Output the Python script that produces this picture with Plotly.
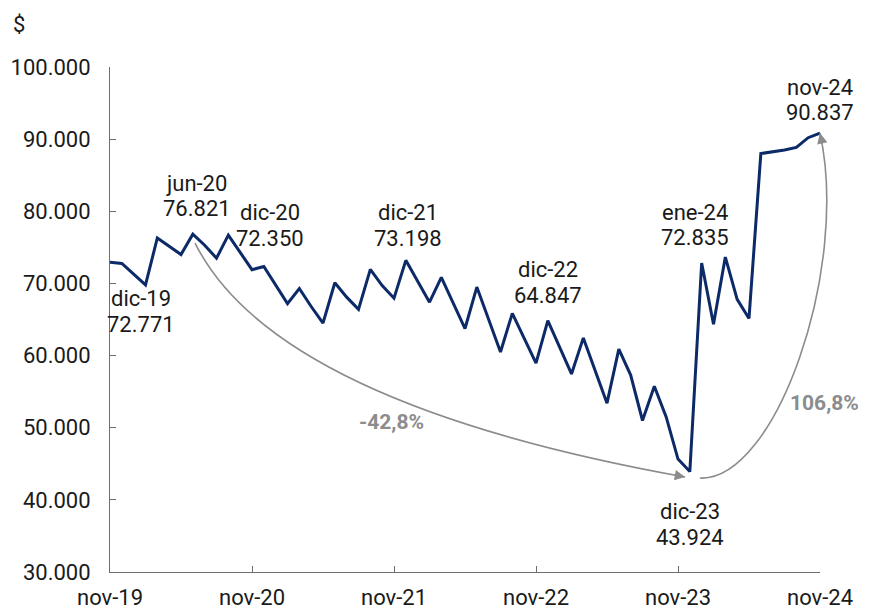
import plotly.graph_objects as go

# Monthly series, nov-19 .. nov-24
MONTHS = ["ene", "feb", "mar", "abr", "may", "jun", "jul", "ago", "sep", "oct", "nov", "dic"]
periods = []
m, yr = 10, 19
for _ in range(61):
    periods.append(f"{MONTHS[m]}-{yr}")
    m += 1
    if m == 12:
        m, yr = 0, yr + 1

price = [
    72950, 72771, 71300, 69800, 76300, 75200, 74000, 76821, 75300, 73500,
    76700, 74300, 71900, 72350, 69700, 67200, 69300, 66800, 64500, 70100,
    68100, 66400, 71950, 69700, 67950, 73198, 70300, 67400, 70850, 67200,
    63750, 69500, 65000, 60500, 65850, 62300, 58950, 64847, 61200, 57450,
    62450, 57900, 53400, 60900, 57300, 51000, 55750, 51500, 45650, 43924,
    72835, 64350, 73650, 67800, 65150, 88000, 88200, 88500, 88850, 90200,
    90837,
]

tick_labels = ["nov-19", "nov-20", "nov-21", "nov-22", "nov-23", "nov-24"]
y_ticks = [30000, 40000, 50000, 60000, 70000, 80000, 90000, 100000]

# labelled points and the centre of their two-line text, offset in pixels (x right, y up)
callouts = {
    "dic-19": (19, -48),
    "jun-20": (4, 38),
    "dic-20": (6, 41),
    "dic-21": (2, 35),
    "dic-22": (0, 38),
    "ene-24": (-7, 38),
    "nov-24": (0, 33),
    "dic-23": (0, -53),
}
LINE_GAP = 25.5

W, H = 869, 609
ML, MR, MT, MB = 110, 49, 67, 37
PW, PH = W - ML - MR, H - MT - MB
X0, X1 = 0, len(periods) - 1
Y0, Y1 = 30000, 100000

NAVY = "#0c2a67"
GREY = "#8c8c8c"
TXT = "#1a1a1a"
AXIS = "#6e6e6e"
FONT = "Roboto"
FS = 22


def fmt(v):
    return f"{v:,.0f}".replace(",", ".")


def pct(a, b):
    return f"{(b / a - 1) * 100:.1f}%".replace(".", ",")


def paper(i, v, dx=0.0, dy=0.0):
    """data point (+ pixel offset, dy downwards) -> paper coords"""
    px = (i - X0) / (X1 - X0) + dx / PW
    py = (v - Y0) / (Y1 - Y0) - dy / PH
    return px, py


def pt(label):
    i = periods.index(label)
    return i, price[i]


fig = go.Figure()
fig.add_trace(go.Scatter(
    x=list(range(len(periods))), y=price, mode="lines",
    line=dict(color=NAVY, width=3), hoverinfo="skip", showlegend=False,
))

ann = []
for lab, (xs, ys) in callouts.items():
    i, v = pt(lab)
    for txt, dy in [(lab, LINE_GAP / 2), (fmt(v), -LINE_GAP / 2)]:
        ann.append(dict(
            x=i, y=v, xref="x", yref="y", text=txt,
            showarrow=False, xanchor="center", yanchor="middle",
            xshift=xs, yshift=ys + dy,
            font=dict(family=FONT, size=FS, color=TXT),
        ))

# curved arrows: jun-20 -> dic-23 and dic-23 -> nov-24
ia, va = pt("jun-20")
ib, vb = pt("dic-23")
ic, vc = pt("nov-24")

s1 = paper(ia, va, 2.2, 8.8)
e1 = paper(ib, vb, -4.7, 5.4)
c1 = paper(ia, va, 82, 169)
path1 = f"M {s1[0]},{s1[1]} Q {c1[0]},{c1[1]} {e1[0]},{e1[1]}"

s2 = paper(ib, vb, 10, 6.5)
e2 = paper(ic, vc, 0, 0)
k1 = paper(ib, vb, 85, 10.5)
k2 = paper(ic, vc, 30, 137)
path2 = f"M {s2[0]},{s2[1]} C {k1[0]},{k1[1]} {k2[0]},{k2[1]} {e2[0]},{e2[1]}"

shapes = [
    dict(type="path", path=path1, xref="paper", yref="paper",
         line=dict(color=GREY, width=1.6)),
    dict(type="path", path=path2, xref="paper", yref="paper",
         line=dict(color=GREY, width=1.6)),
]

for tip, (ax, ay) in [(e1, (-12, -2.2)), (e2, (2.6, 11.7))]:
    ann.append(dict(
        x=tip[0], y=tip[1], xref="paper", yref="paper", text="",
        showarrow=True, arrowhead=2, arrowsize=1.3, arrowwidth=1.6,
        arrowcolor=GREY, ax=ax, ay=ay, axref="pixel", ayref="pixel",
        standoff=0,
    ))

# percentage changes
for (x, y), txt in [
    (paper(0, Y0, 281, -150), pct(va, vb)),
    (paper(0, Y0, 714, -169), pct(vb, vc)),
]:
    ann.append(dict(
        x=x, y=y, xref="paper", yref="paper", text=f"<b>{txt}</b>",
        showarrow=False, xanchor="center", yanchor="middle",
        font=dict(family=FONT, size=21, color=GREY),
    ))

# currency unit above the value axis
ann.append(dict(
    x=(19 - ML) / PW, y=1 + (MT - 25) / PH, xref="paper", yref="paper",
    text="$", showarrow=False, xanchor="center", yanchor="middle",
    font=dict(family=FONT, size=FS, color=TXT),
))

fig.update_layout(
    width=W, height=H,
    margin=dict(l=ML, r=MR, t=MT, b=MB, autoexpand=False),
    paper_bgcolor="white", plot_bgcolor="white",
    separators=",.",
    font=dict(family=FONT, size=FS, color=TXT),
    shapes=shapes, annotations=ann, showlegend=False,
    xaxis=dict(
        range=[X0, X1], tickmode="array", automargin=False,
        tickvals=[periods.index(t) for t in tick_labels], ticktext=tick_labels,
        ticks="inside", ticklen=6, tickcolor=AXIS, tickwidth=1,
        showline=True, linecolor=AXIS, linewidth=1,
        showgrid=False, zeroline=False,
        tickfont=dict(family=FONT, size=FS, color=TXT),
        ticklabelstandoff=6,
    ),
    yaxis=dict(
        range=[Y0, Y1], tickmode="array", tickvals=y_ticks, automargin=False,
        tickformat=",.0f",
        ticks="inside", ticklen=6, tickcolor=AXIS, tickwidth=1,
        showline=True, linecolor=AXIS, linewidth=1,
        showgrid=False, zeroline=False,
        tickfont=dict(family=FONT, size=FS, color=TXT),
        ticklabelstandoff=14,
    ),
)

fig.write_html("out.html")
